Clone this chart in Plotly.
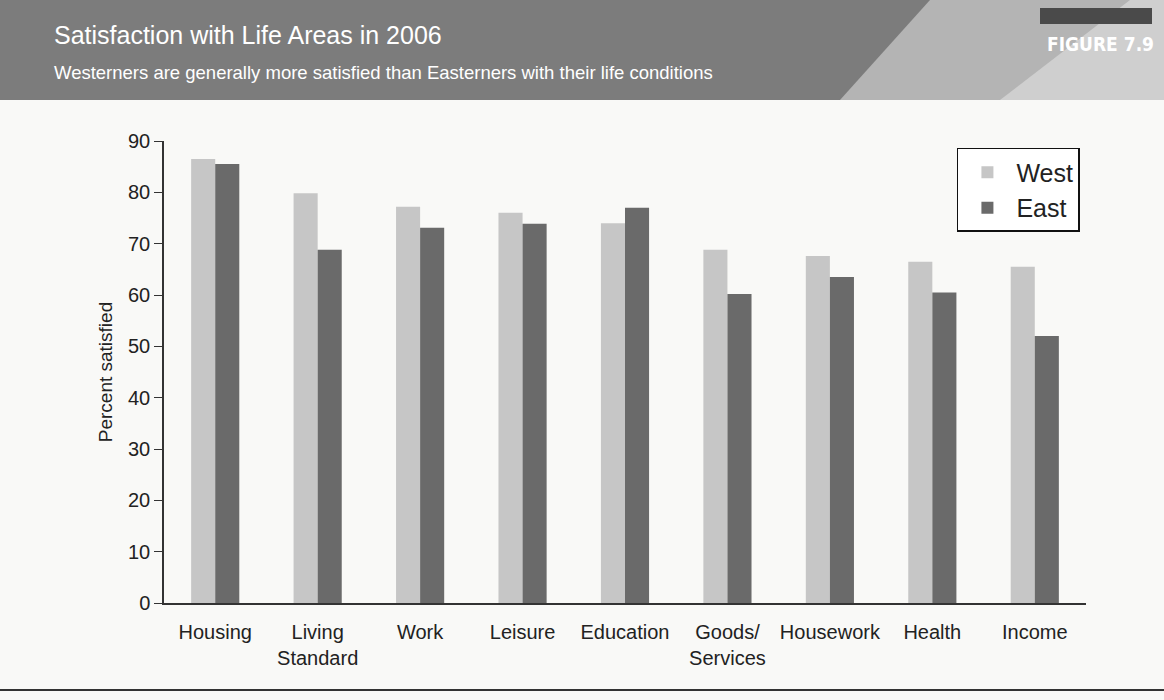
import plotly.graph_objects as go

categories = ["Housing", "Living<br>Standard", "Work", "Leisure", "Education",
              "Goods/<br>Services", "Housework", "Health", "Income"]
west = [86.5, 79.8, 77.2, 76.0, 74.0, 68.8, 67.6, 66.5, 65.5]
east = [85.5, 68.8, 73.1, 73.9, 77.0, 60.2, 63.5, 60.5, 52.0]
y_ticks = [0, 10, 20, 30, 40, 50, 60, 70, 80, 90]

FONT = "Liberation Sans, Arial, sans-serif"

fig = go.Figure()
fig.add_trace(go.Bar(name="West", x=categories, y=west, marker_color="#c6c6c6",
                     marker_line_width=0))
fig.add_trace(go.Bar(name="East", x=categories, y=east, marker_color="#6a6a6a",
                     marker_line_width=0))

fig.update_layout(
    width=1164, height=700,
    margin=dict(l=164, r=78, t=141, b=97),
    paper_bgcolor="#f9f9f7", plot_bgcolor="rgba(0,0,0,0)",
    barmode="group", bargap=0.53, bargroupgap=0,
    font=dict(family=FONT, color="#222222", size=20),
    showlegend=True,
    legend=dict(x=0.86, y=0.985, xanchor="left", yanchor="top",
                bgcolor="#ffffff", bordercolor="#111111", borderwidth=1.5,
                font=dict(size=25, color="#222222"), itemwidth=48,
                tracegroupgap=16),
    xaxis=dict(showline=True, linecolor="#333333", linewidth=1.5, ticks="",
               tickfont=dict(size=20), showgrid=False, ticklabelstandoff=10),
    yaxis=dict(range=[0, 90], tickvals=y_ticks, showline=True, linecolor="#333333",
               linewidth=1.5, ticks="outside", ticklen=8, tickcolor="#333333",
               showgrid=False, zeroline=False, tickfont=dict(size=20),
               title=dict(text="Percent satisfied", font=dict(size=19), standoff=10)),
)

pw = 1164 - 164 - 78
ph = 700 - 141 - 97
def px(x):
    return (x - 164) / pw
def py(y):
    return (700 - 97 - y) / ph

fig.update_layout(shapes=[
    dict(type="rect", xref="paper", yref="paper", x0=px(0), x1=px(1164),
         y0=py(100), y1=py(0), fillcolor="#7c7c7c", line_width=0, layer="below"),
    dict(type="path", xref="paper", yref="paper",
         path=f"M {px(840)} {py(100)} L {px(930)} {py(0)} L {px(1164)} {py(0)} L {px(1164)} {py(100)} Z",
         fillcolor="#b4b4b4", line_width=0, layer="below"),
    dict(type="path", xref="paper", yref="paper",
         path=f"M {px(1000)} {py(100)} L {px(1130)} {py(0)} L {px(1164)} {py(0)} L {px(1164)} {py(100)} Z",
         fillcolor="#cfcfcf", line_width=0, layer="below"),
    dict(type="rect", xref="paper", yref="paper", x0=px(1040), x1=px(1152),
         y0=py(24), y1=py(8), fillcolor="#4a4a4a", line_width=0, layer="below"),
    dict(type="line", xref="paper", yref="paper", x0=px(0), x1=px(1164),
         y0=py(690), y1=py(690), line=dict(color="#333333", width=2)),
])

fig.add_annotation(text="Satisfaction with Life Areas in 2006", xref="paper", yref="paper",
                   x=px(52), y=py(35), xanchor="left", yanchor="middle", showarrow=False,
                   font=dict(size=25, color="#ffffff", family=FONT))
fig.add_annotation(text="Westerners are generally more satisfied than Easterners with their life conditions",
                   xref="paper", yref="paper", x=px(52), y=py(72), xanchor="left",
                   yanchor="middle", showarrow=False,
                   font=dict(size=18.5, color="#ffffff", family=FONT))
fig.add_annotation(text="<b>FIGURE 7.9</b>", xref="paper", yref="paper",
                   x=px(1156), y=py(44), xanchor="right", yanchor="middle", showarrow=False,
                   font=dict(size=19, color="#ffffff", family="DejaVu Sans Condensed, " + FONT))

fig.write_html("out.html")
